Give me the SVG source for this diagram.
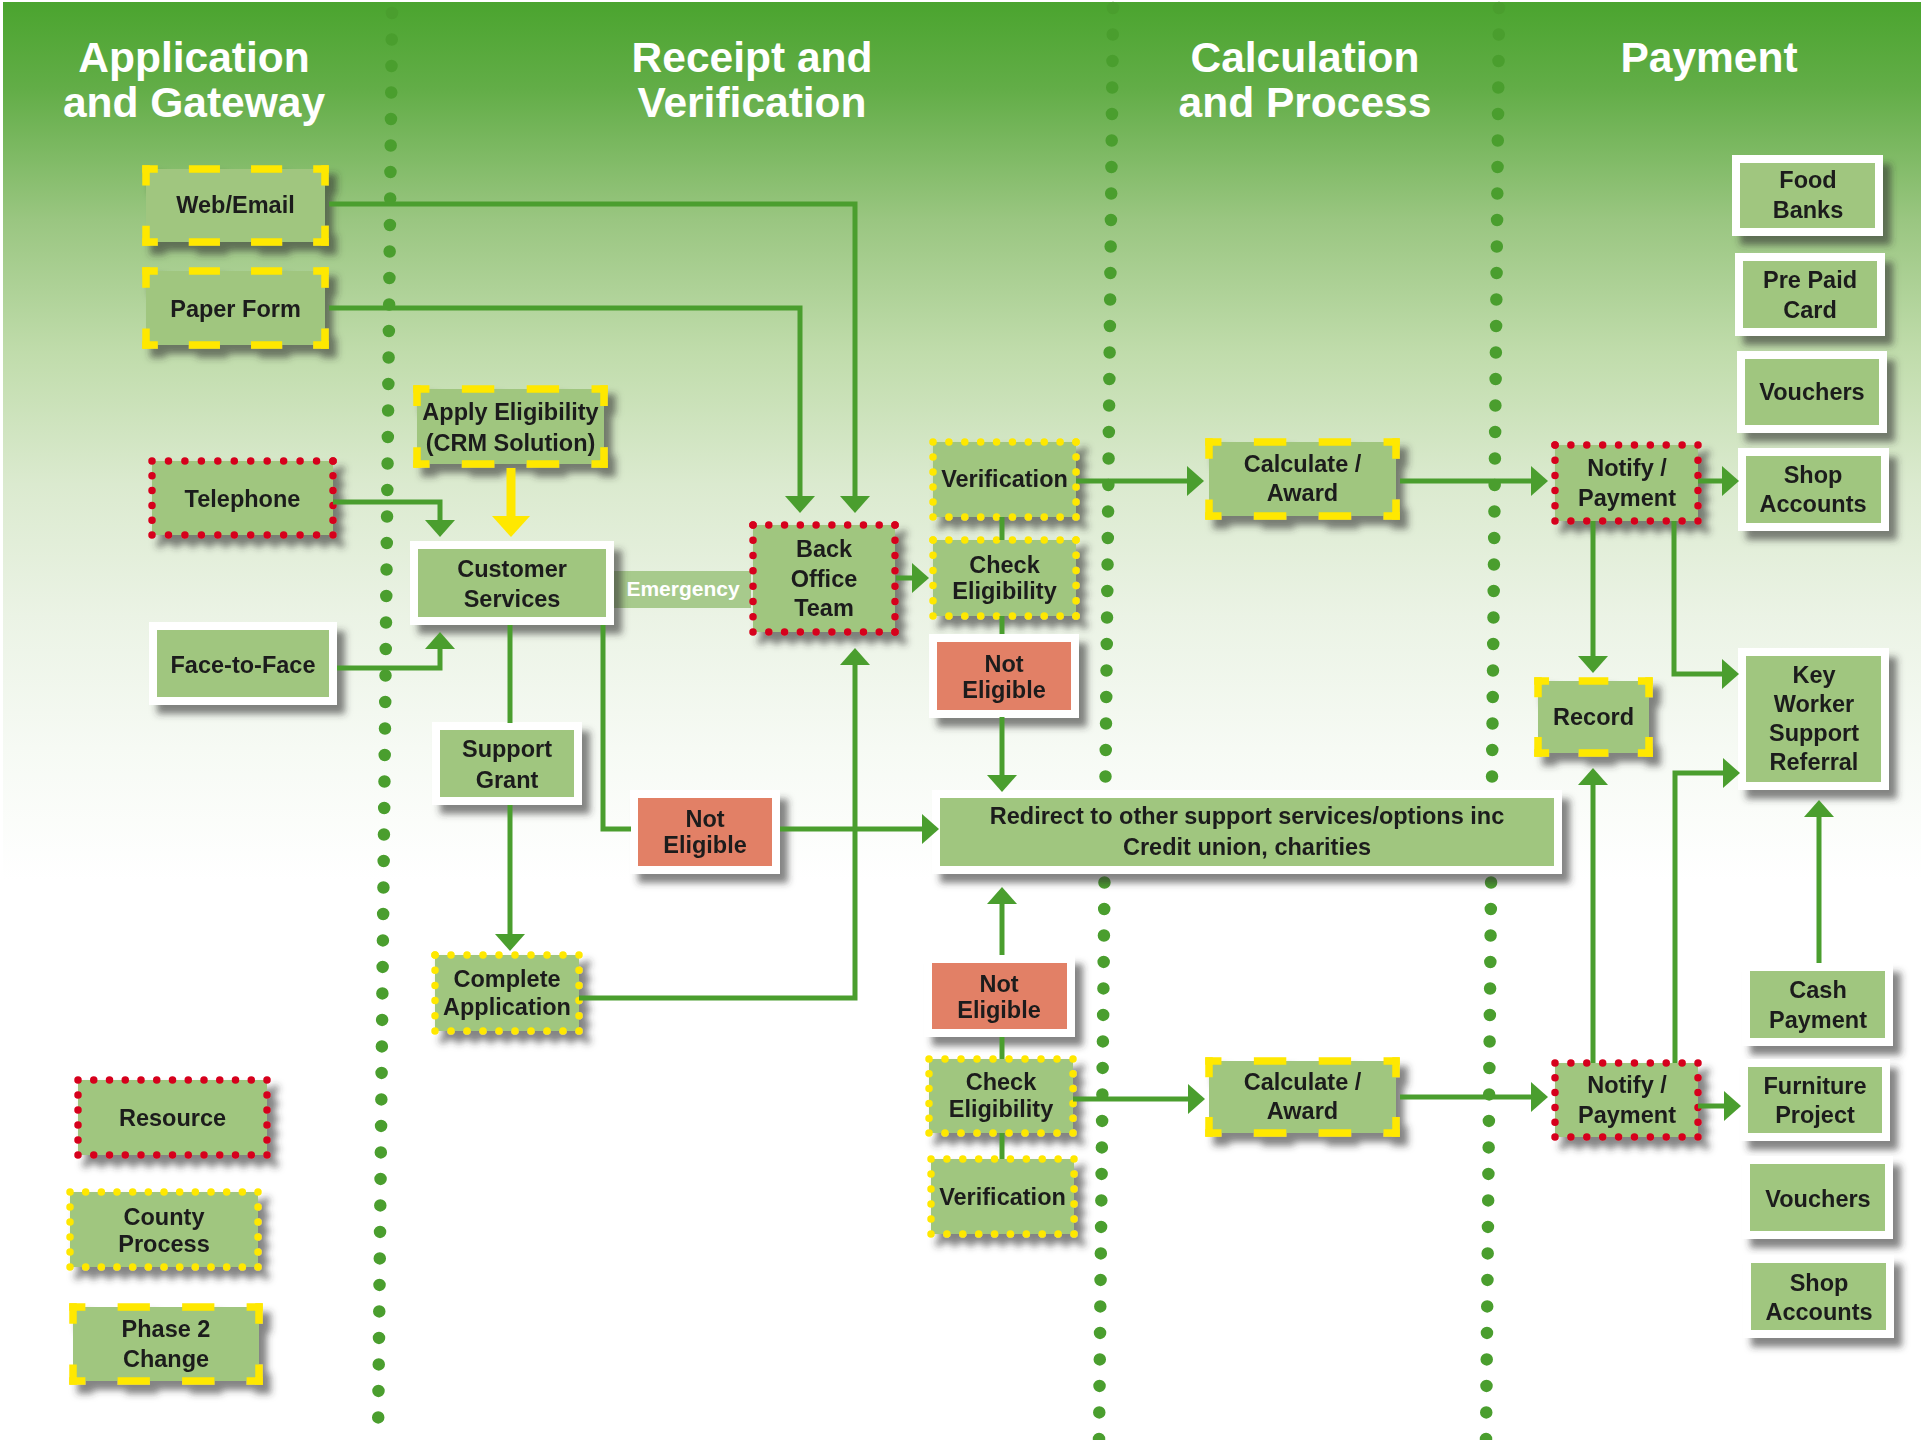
<svg xmlns="http://www.w3.org/2000/svg" width="1921" height="1440" viewBox="0 0 1921 1440">
<defs>
<style>
.col{fill:none;stroke:#4a9e2e;stroke-width:12.5;stroke-linecap:round;stroke-dasharray:0 26.5}
.box{fill:#a0c67f}
.wb{fill:#a0c67f;stroke:#fff;stroke-width:8}
.ne{fill:#e28066;stroke:#fff;stroke-width:8}
.dsh{fill:none;stroke:#ffe800;stroke-width:7.5;stroke-dasharray:1 1;stroke-dashoffset:0.5}
.dr{fill:none;stroke:#d6001c;stroke-width:7.5;stroke-linecap:round;stroke-dasharray:0 1}
.dy{fill:none;stroke:#ffe800;stroke-width:7.5;stroke-linecap:round;stroke-dasharray:0 1}
.t{font-family:"Liberation Sans",Arial,sans-serif;font-weight:700;font-size:23.5px;fill:#1c1c1c;text-anchor:middle}
.h{font-family:"Liberation Sans",Arial,sans-serif;font-weight:700;font-size:42.5px;fill:#fff;text-anchor:middle}
.em{font-family:"Liberation Sans",Arial,sans-serif;font-weight:700;font-size:21px;fill:#fff;text-anchor:middle}
.cn{fill:none;stroke:#4a9e2e;stroke-width:5;stroke-linejoin:miter}
.ar{marker-end:url(#ag)}
.cy{fill:none;stroke:#ffe800;stroke-width:9;marker-end:url(#ay)}
</style>
<linearGradient id="bg" gradientUnits="userSpaceOnUse" x1="0" y1="0" x2="0" y2="880">
<stop offset="0" stop-color="#4aa42e"/>
<stop offset="0.1" stop-color="#62ad47"/>
<stop offset="0.25" stop-color="#9ac681"/>
<stop offset="0.4" stop-color="#c0dcab"/>
<stop offset="0.55" stop-color="#dbeacf"/>
<stop offset="0.7" stop-color="#ebf3e5"/>
<stop offset="0.85" stop-color="#f6faf4"/>
<stop offset="1" stop-color="#ffffff"/>
</linearGradient>
<filter id="sh" x="-20%" y="-20%" width="150%" height="160%">
<feDropShadow dx="8" dy="9" stdDeviation="3.5" flood-color="#333" flood-opacity="0.6"/>
</filter>
<marker id="ag" viewBox="0 0 17 30" refX="7" refY="15" markerWidth="17" markerHeight="30" markerUnits="userSpaceOnUse" orient="auto">
<path d="M0,0 L17,15 L0,30 z" fill="#4a9e2e"/>
</marker>
<marker id="ay" viewBox="0 0 21 38" refX="11" refY="19" markerWidth="21" markerHeight="38" markerUnits="userSpaceOnUse" orient="auto">
<path d="M0,0 L21,19 L0,38 z" fill="#ffe800"/>
</marker>
</defs>

<rect x="0" y="0" width="1921" height="1440" fill="#fff"/>
<rect x="3" y="2" width="1918" height="1438" fill="url(#bg)"/>

<g id="columns">
<path class="col" d="M392,13 L378,1440"/>
<path class="col" d="M1113,8 L1099,1440"/>
<path class="col" d="M1499,8 L1486,1440"/>
</g>

<g id="titles">
<text class="h" x="194" y="72">Application</text>
<text class="h" x="194" y="117">and Gateway</text>
<text class="h" x="752" y="72">Receipt and</text>
<text class="h" x="752" y="117">Verification</text>
<text class="h" x="1305" y="72">Calculation</text>
<text class="h" x="1305" y="117">and Process</text>
<text class="h" x="1709" y="72">Payment</text>
</g>

<g id="emergency">
<rect x="612" y="571" width="139" height="37" fill="#a7ca8c"/>
<text class="em" x="683" y="596">Emergency</text>
</g>

<g id="nodes">
<g id="web-email" filter="url(#sh)">
<rect class="box" x="146" y="169" width="179" height="73"/>
<path class="dsh" pathLength="6" d="M142.25,169H328.75"/><path class="dsh" pathLength="2" d="M325,165.25V245.75"/><path class="dsh" pathLength="6" d="M328.75,242H142.25"/><path class="dsh" pathLength="2" d="M146,245.75V165.25"/>
<text class="t" x="235.5" y="213">Web/Email</text>
</g>
<g id="paper-form" filter="url(#sh)">
<rect class="box" x="146" y="271" width="179" height="74"/>
<path class="dsh" pathLength="6" d="M142.25,271H328.75"/><path class="dsh" pathLength="2" d="M325,267.25V348.75"/><path class="dsh" pathLength="6" d="M328.75,345H142.25"/><path class="dsh" pathLength="2" d="M146,348.75V267.25"/>
<text class="t" x="235.5" y="317">Paper Form</text>
</g>
<g id="apply-eligibility" filter="url(#sh)">
<rect class="box" x="417" y="389" width="187" height="75"/>
<path class="dsh" pathLength="6" d="M413.25,389H607.75"/><path class="dsh" pathLength="2" d="M604,385.25V467.75"/><path class="dsh" pathLength="6" d="M607.75,464H413.25"/><path class="dsh" pathLength="2" d="M417,467.75V385.25"/>
<text class="t" x="510.5" y="420">Apply Eligibility</text>
<text class="t" x="510.5" y="451">(CRM Solution)</text>
</g>
<g id="telephone" filter="url(#sh)">
<rect class="box" x="152" y="461" width="181" height="74"/>
<path class="dr" pathLength="11" d="M152,461H333"/><path class="dr" pathLength="5" d="M333,461V535"/><path class="dr" pathLength="11" d="M333,535H152"/><path class="dr" pathLength="5" d="M152,535V461"/>
<text class="t" x="242.5" y="507">Telephone</text>
</g>
<g id="face-to-face" filter="url(#sh)">
<rect class="wb" x="153" y="626" width="180" height="75"/>
<text class="t" x="243" y="673">Face-to-Face</text>
</g>
<g id="customer-services" filter="url(#sh)">
<rect class="wb" x="414" y="545" width="196" height="76"/>
<text class="t" x="512" y="577">Customer</text>
<text class="t" x="512" y="607">Services</text>
</g>
<g id="support-grant" filter="url(#sh)">
<rect class="wb" x="436" y="726" width="142" height="75"/>
<text class="t" x="507" y="757">Support</text>
<text class="t" x="507" y="788">Grant</text>
</g>
<g id="complete-application" filter="url(#sh)">
<rect class="box" x="435" y="955" width="144" height="76"/>
<path class="dy" pathLength="9" d="M435,955H579"/><path class="dy" pathLength="5" d="M579,955V1031"/><path class="dy" pathLength="9" d="M579,1031H435"/><path class="dy" pathLength="5" d="M435,1031V955"/>
<text class="t" x="507" y="987">Complete</text>
<text class="t" x="507" y="1015">Application</text>
</g>
<g id="not-eligible-mid" filter="url(#sh)">
<rect class="ne" x="634" y="794" width="142" height="76"/>
<text class="t" x="705" y="827">Not</text>
<text class="t" x="705" y="853">Eligible</text>
</g>
<g id="back-office-team" filter="url(#sh)">
<rect class="box" x="753" y="525" width="142" height="107"/>
<path class="dr" pathLength="9" d="M753,525H895"/><path class="dr" pathLength="7" d="M895,525V632"/><path class="dr" pathLength="9" d="M895,632H753"/><path class="dr" pathLength="7" d="M753,632V525"/>
<text class="t" x="824" y="557">Back</text>
<text class="t" x="824" y="587">Office</text>
<text class="t" x="824" y="616">Team</text>
</g>
<g id="verification-top" filter="url(#sh)">
<rect class="box" x="933" y="442" width="143" height="75"/>
<path class="dy" pathLength="9" d="M933,442H1076"/><path class="dy" pathLength="5" d="M1076,442V517"/><path class="dy" pathLength="9" d="M1076,517H933"/><path class="dy" pathLength="5" d="M933,517V442"/>
<text class="t" x="1004.5" y="487">Verification</text>
</g>
<g id="check-eligibility-top" filter="url(#sh)">
<rect class="box" x="933" y="540" width="143" height="76"/>
<path class="dy" pathLength="9" d="M933,540H1076"/><path class="dy" pathLength="5" d="M1076,540V616"/><path class="dy" pathLength="9" d="M1076,616H933"/><path class="dy" pathLength="5" d="M933,616V540"/>
<text class="t" x="1004.5" y="573">Check</text>
<text class="t" x="1004.5" y="599">Eligibility</text>
</g>
<g id="not-eligible-top" filter="url(#sh)">
<rect class="ne" x="933" y="638" width="142" height="76"/>
<text class="t" x="1004" y="672">Not</text>
<text class="t" x="1004" y="698">Eligible</text>
</g>
<g id="redirect" filter="url(#sh)">
<rect class="wb" x="936" y="794" width="622" height="76"/>
<text class="t" x="1247" y="824">Redirect to other support services/options inc</text>
<text class="t" x="1247" y="855">Credit union, charities</text>
</g>
<g id="not-eligible-bottom" filter="url(#sh)">
<rect class="ne" x="928" y="959" width="143" height="74"/>
<text class="t" x="999" y="992">Not</text>
<text class="t" x="999" y="1018">Eligible</text>
</g>
<g id="check-eligibility-bottom" filter="url(#sh)">
<rect class="box" x="929" y="1059" width="144" height="74"/>
<path class="dy" pathLength="9" d="M929,1059H1073"/><path class="dy" pathLength="5" d="M1073,1059V1133"/><path class="dy" pathLength="9" d="M1073,1133H929"/><path class="dy" pathLength="5" d="M929,1133V1059"/>
<text class="t" x="1001" y="1090">Check</text>
<text class="t" x="1001" y="1117">Eligibility</text>
</g>
<g id="verification-bottom" filter="url(#sh)">
<rect class="box" x="931" y="1159" width="143" height="75"/>
<path class="dy" pathLength="9" d="M931,1159H1074"/><path class="dy" pathLength="5" d="M1074,1159V1234"/><path class="dy" pathLength="9" d="M1074,1234H931"/><path class="dy" pathLength="5" d="M931,1234V1159"/>
<text class="t" x="1002.5" y="1205">Verification</text>
</g>
<g id="calculate-award-top" filter="url(#sh)">
<rect class="box" x="1209" y="442" width="187" height="74"/>
<path class="dsh" pathLength="6" d="M1205.25,442H1399.75"/><path class="dsh" pathLength="2" d="M1396,438.25V519.75"/><path class="dsh" pathLength="6" d="M1399.75,516H1205.25"/><path class="dsh" pathLength="2" d="M1209,519.75V438.25"/>
<text class="t" x="1302.5" y="472">Calculate /</text>
<text class="t" x="1302.5" y="501">Award</text>
</g>
<g id="calculate-award-bottom" filter="url(#sh)">
<rect class="box" x="1209" y="1061" width="187" height="72"/>
<path class="dsh" pathLength="6" d="M1205.25,1061H1399.75"/><path class="dsh" pathLength="2" d="M1396,1057.25V1136.75"/><path class="dsh" pathLength="6" d="M1399.75,1133H1205.25"/><path class="dsh" pathLength="2" d="M1209,1136.75V1057.25"/>
<text class="t" x="1302.5" y="1090">Calculate /</text>
<text class="t" x="1302.5" y="1119">Award</text>
</g>
<g id="notify-payment-top" filter="url(#sh)">
<rect class="box" x="1555" y="445" width="143" height="76"/>
<path class="dr" pathLength="9" d="M1555,445H1698"/><path class="dr" pathLength="5" d="M1698,445V521"/><path class="dr" pathLength="9" d="M1698,521H1555"/><path class="dr" pathLength="5" d="M1555,521V445"/>
<text class="t" x="1627" y="476">Notify /</text>
<text class="t" x="1627" y="506">Payment</text>
</g>
<g id="record" filter="url(#sh)">
<rect class="box" x="1538" y="681" width="111" height="72"/>
<path class="dsh" pathLength="4" d="M1534.25,681H1652.75"/><path class="dsh" pathLength="2" d="M1649,677.25V756.75"/><path class="dsh" pathLength="4" d="M1652.75,753H1534.25"/><path class="dsh" pathLength="2" d="M1538,756.75V677.25"/>
<text class="t" x="1593.5" y="725">Record</text>
</g>
<g id="notify-payment-bottom" filter="url(#sh)">
<rect class="box" x="1555" y="1063" width="143" height="74"/>
<path class="dr" pathLength="9" d="M1555,1063H1698"/><path class="dr" pathLength="5" d="M1698,1063V1137"/><path class="dr" pathLength="9" d="M1698,1137H1555"/><path class="dr" pathLength="5" d="M1555,1137V1063"/>
<text class="t" x="1627" y="1093">Notify /</text>
<text class="t" x="1627" y="1123">Payment</text>
</g>
<g id="food-banks" filter="url(#sh)">
<rect class="wb" x="1736" y="159" width="143" height="73"/>
<text class="t" x="1808" y="188">Food</text>
<text class="t" x="1808" y="218">Banks</text>
</g>
<g id="pre-paid-card" filter="url(#sh)">
<rect class="wb" x="1739" y="257" width="142" height="75"/>
<text class="t" x="1810" y="288">Pre Paid</text>
<text class="t" x="1810" y="318">Card</text>
</g>
<g id="vouchers-top" filter="url(#sh)">
<rect class="wb" x="1741" y="355" width="142" height="74"/>
<text class="t" x="1812" y="400">Vouchers</text>
</g>
<g id="shop-accounts-top" filter="url(#sh)">
<rect class="wb" x="1742" y="452" width="143" height="75"/>
<text class="t" x="1813" y="483">Shop</text>
<text class="t" x="1813" y="512">Accounts</text>
</g>
<g id="key-worker" filter="url(#sh)">
<rect class="wb" x="1742" y="652" width="143" height="134"/>
<text class="t" x="1814" y="683">Key</text>
<text class="t" x="1814" y="712">Worker</text>
<text class="t" x="1814" y="741">Support</text>
<text class="t" x="1814" y="770">Referral</text>
</g>
<g id="cash-payment" filter="url(#sh)">
<rect class="wb" x="1746" y="967" width="143" height="75"/>
<text class="t" x="1818" y="998">Cash</text>
<text class="t" x="1818" y="1028">Payment</text>
</g>
<g id="furniture-project" filter="url(#sh)">
<rect class="wb" x="1744" y="1063" width="142" height="74"/>
<text class="t" x="1815" y="1094">Furniture</text>
<text class="t" x="1815" y="1123">Project</text>
</g>
<g id="vouchers-bottom" filter="url(#sh)">
<rect class="wb" x="1746" y="1160" width="143" height="75"/>
<text class="t" x="1818" y="1207">Vouchers</text>
</g>
<g id="shop-accounts-bottom" filter="url(#sh)">
<rect class="wb" x="1747" y="1259" width="143" height="75"/>
<text class="t" x="1819" y="1291">Shop</text>
<text class="t" x="1819" y="1320">Accounts</text>
</g>
<g id="legend-resource" filter="url(#sh)">
<rect class="box" x="78" y="1080" width="189" height="75"/>
<path class="dr" pathLength="12" d="M78,1080H267"/><path class="dr" pathLength="5" d="M267,1080V1155"/><path class="dr" pathLength="12" d="M267,1155H78"/><path class="dr" pathLength="5" d="M78,1155V1080"/>
<text class="t" x="172.5" y="1126">Resource</text>
</g>
<g id="legend-county" filter="url(#sh)">
<rect class="box" x="70" y="1192" width="188" height="75"/>
<path class="dy" pathLength="12" d="M70,1192H258"/><path class="dy" pathLength="5" d="M258,1192V1267"/><path class="dy" pathLength="12" d="M258,1267H70"/><path class="dy" pathLength="5" d="M70,1267V1192"/>
<text class="t" x="164" y="1225">County</text>
<text class="t" x="164" y="1252">Process</text>
</g>
<g id="legend-phase2" filter="url(#sh)">
<rect class="box" x="73" y="1307" width="186" height="74"/>
<path class="dsh" pathLength="6" d="M69.25,1307H262.75"/><path class="dsh" pathLength="2" d="M259,1303.25V1384.75"/><path class="dsh" pathLength="6" d="M262.75,1381H69.25"/><path class="dsh" pathLength="2" d="M73,1384.75V1303.25"/>
<text class="t" x="166" y="1337">Phase 2</text>
<text class="t" x="166" y="1367">Change</text>
</g>
</g>

<g id="connectors">
<path class="cn ar" d="M329,204H855V503"/>
<path class="cn ar" d="M329,308H800V503"/>
<path class="cn ar" d="M333,502H440V527"/>
<path class="cn ar" d="M337,668H440V642"/>
<path class="cy" d="M511,468V527"/>
<path class="cn" d="M510,625V723"/>
<path class="cn ar" d="M510,805V941"/>
<path class="cn" d="M603,625V829H631"/>
<path class="cn ar" d="M780,829H929"/>
<path class="cn ar" d="M579,998H855V658"/>
<path class="cn ar" d="M896,578H919"/>
<path class="cn" d="M1002,517V540"/>
<path class="cn" d="M1002,616V634"/>
<path class="cn ar" d="M1002,717V782"/>
<path class="cn ar" d="M1076,481H1194"/>
<path class="cn ar" d="M1400,481H1538"/>
<path class="cn ar" d="M1698,481H1729"/>
<path class="cn ar" d="M1593,521V663"/>
<path class="cn ar" d="M1674,521V674H1729"/>
<path class="cn ar" d="M1593,1063V778"/>
<path class="cn ar" d="M1675,1063V773H1730"/>
<path class="cn ar" d="M1819,963V810"/>
<path class="cn ar" d="M1698,1106H1731"/>
<path class="cn ar" d="M1400,1097H1538"/>
<path class="cn ar" d="M1073,1099H1195"/>
<path class="cn ar" d="M1002,955V897"/>
<path class="cn" d="M1002,1037V1059"/>
<path class="cn" d="M1002,1133V1159"/>
</g>
</svg>
